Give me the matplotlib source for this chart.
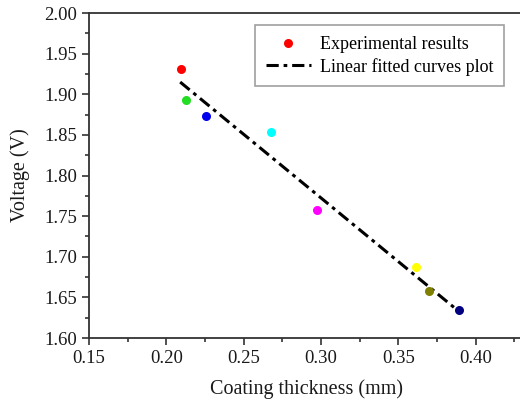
import matplotlib
matplotlib.use("Agg")
import matplotlib.pyplot as plt
from matplotlib.ticker import MultipleLocator
from matplotlib.lines import Line2D

plt.rcParams['font.family'] = ['Liberation Serif', 'DejaVu Serif']

# data
thickness = [0.2095, 0.2127, 0.226, 0.268, 0.2977, 0.3614, 0.3696, 0.389]
voltage = [1.931, 1.893, 1.873, 1.853, 1.7575, 1.688, 1.658, 1.635]
colors = ['#ff0000', '#22dd22', '#0000ee', '#00ffff', '#ff00ff', '#ffff00', '#808000', '#000080']
fit_x = [0.209, 0.389]
fit_y = [1.915, 1.633]

fig = plt.figure(figsize=(5.2, 4.05), dpi=100)
ax = fig.add_axes([0.171, 0.1654, 0.838, 0.8025])

dash = (0, (4, 1.6, 1.2, 1.6))
ax.plot(fit_x, fit_y, color='black', ls=dash, lw=2.2, zorder=2)
for x, y, c in zip(thickness, voltage, colors):
    ax.plot(x, y, 'o', color=c, ms=6.5, mec='none', zorder=3)

ax.set_xlim(0.15, 0.4317)
ax.set_ylim(1.60, 2.00)
ax.xaxis.set_major_locator(MultipleLocator(0.05))
ax.xaxis.set_minor_locator(MultipleLocator(0.025))
ax.yaxis.set_major_locator(MultipleLocator(0.05))
ax.yaxis.set_minor_locator(MultipleLocator(0.025))
ax.xaxis.set_major_formatter(lambda v, p: f"{v:.2f}")
ax.yaxis.set_major_formatter(lambda v, p: f"{v:.2f}")
ax.tick_params(which='major', direction='out', length=5, width=1.2, labelsize=13.5, colors='#333333', labelcolor='#1a1a1a')
ax.tick_params(which='minor', direction='out', length=3, width=1.2, colors='#333333')
for s in ['left', 'bottom', 'top']:
    ax.spines[s].set_linewidth(1.3)
    ax.spines[s].set_color('#333333')
ax.spines['right'].set_visible(False)

ax.set_xlabel('Coating thickness (mm)', fontsize=14.5, labelpad=9, color='#1a1a1a')
ax.set_ylabel('Voltage (V)', fontsize=14.5, labelpad=10, color='#1a1a1a')

handles = [Line2D([], [], marker='o', ls='none', color='#ff0000', ms=6.5, mec='none'),
           Line2D([], [], color='black', ls=dash, lw=2.2)]
leg = ax.legend(handles, ['Experimental results', 'Linear fitted curves plot'],
                loc='upper left', bbox_to_anchor=(0.36, 0.99), fontsize=13,
                fancybox=False, edgecolor='#888888', handlelength=2.5,
                borderpad=0.6, labelspacing=0.25, handletextpad=0.5)
leg.get_frame().set_linewidth(1.2)

fig.savefig('out.png', dpi=100)
